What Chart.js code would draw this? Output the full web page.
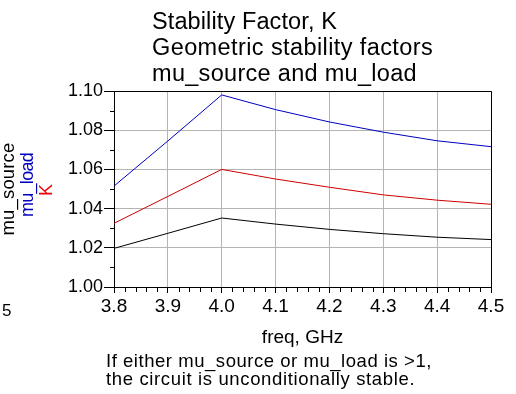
<!DOCTYPE html>
<html>
<head>
<meta charset="utf-8">
<script src="https://cdn.jsdelivr.net/npm/chart.js@4/dist/chart.umd.min.js"></script>
<style>
  html, body { margin: 0; padding: 0; background: #fff; }
  #wrap { position: relative; width: 516px; height: 394px; }
</style>
</head>
<body>
<div id="wrap"><canvas id="c" width="516" height="394"></canvas></div>
<script>
// ---- data ----
const freqGHz   = [3.8, 3.9, 4.0, 4.1, 4.2, 4.3, 4.4, 4.5];
const muLoad    = [1.0515, 1.0745, 1.0980, 1.0905, 1.0842, 1.0790, 1.0746, 1.0716];
const stabK     = [1.0325, 1.0462, 1.0600, 1.0551, 1.0509, 1.0470, 1.0443, 1.0422];
const muSource  = [1.0197, 1.0274, 1.0352, 1.0321, 1.0294, 1.0272, 1.0254, 1.0242];

const titleLines  = ["Stability Factor, K", "Geometric stability factors", "mu_source and mu_load"];
const noteLines   = ["If either mu_source or mu_load is >1,", "the circuit is unconditionally stable."];
const xTitle      = "freq, GHz";

const FONT = "'Liberation Sans', Arial, sans-serif";
const BLUE = "#0000c0", RED = "#d00000", BLACK = "#000000";

function toXY(ys) { return freqGHz.map((f, i) => ({ x: f, y: ys[i] })); }

// draw text stretched (via letter spacing) to a measured target width
function fitText(ctx, txt, x, y, size, targetW) {
  ctx.font = size + "px " + FONT;
  if ('letterSpacing' in ctx) {
    ctx.letterSpacing = "0px";
    const w = ctx.measureText(txt).width;
    const n = txt.length;
    ctx.letterSpacing = ((targetW - w) / n).toFixed(2) + "px";
  }
  ctx.fillText(txt, x, y);
  if ('letterSpacing' in ctx) ctx.letterSpacing = "0px";
}

const decor = {
  id: 'decor',
  afterDraw(chart) {
    const ctx = chart.ctx, a = chart.chartArea;
    const xs = chart.scales.x, ys = chart.scales.y;
    ctx.save();
    // frame top/right
    ctx.strokeStyle = BLACK; ctx.lineWidth = 1;
    ctx.beginPath();
    ctx.moveTo(a.left, a.top + 0.5); ctx.lineTo(a.right + 0.5, a.top + 0.5);
    ctx.lineTo(a.right + 0.5, a.bottom);
    ctx.stroke();
    // minor ticks x
    ctx.beginPath();
    for (let k = 0; k <= 35; k++) {
      if (k % 5 === 0) continue;
      const v = 3.8 + k * 0.02;
      const px = Math.round(xs.getPixelForValue(v)) + 0.5;
      ctx.moveTo(px, a.bottom); ctx.lineTo(px, a.bottom + 5);
    }
    // minor ticks y
    for (let k = 1; k < 10; k += 2) {
      const v = 1.0 + k * 0.01;
      const py = Math.round(ys.getPixelForValue(v)) + 0.5;
      ctx.moveTo(a.left - 4, py); ctx.lineTo(a.left, py);
    }
    ctx.stroke();

    // title
    ctx.fillStyle = BLACK;
    ctx.textAlign = 'left'; ctx.textBaseline = 'alphabetic';
    const titleW = [185, 281, 265];
    titleLines.forEach((t, i) => fitText(ctx, t, 152, 29 + i * 26, 23.5, titleW[i]));

    // x axis title
    ctx.font = "19px " + FONT;
    ctx.textAlign = 'center';
    ctx.fillText(xTitle, (a.left + a.right) / 2, 343);

    // note
    ctx.textAlign = 'left';
    const noteW = [326, 309];
    noteLines.forEach((t, i) => fitText(ctx, t, 106, 367 + i * 18, 18.5, noteW[i]));

    // stray "5"
    ctx.font = "17px " + FONT;
    ctx.fillText("5", 2, 316);

    // y axis titles (rotated)
    function vtext(txt, x, y, color, size, targetW) {
      ctx.save();
      ctx.translate(x, y);
      ctx.rotate(-Math.PI / 2);
      ctx.fillStyle = color;
      ctx.textAlign = 'left'; ctx.textBaseline = 'alphabetic';
      fitText(ctx, txt, -targetW / 2, 0, size, targetW);
      ctx.restore();
    }
    vtext("mu_source", 14, 189, BLACK, 18.5, 93);
    vtext("mu_load", 33, 185, BLUE, 18, 64);
    vtext("K", 52, 190, "#ee0000", 18, 12);
    ctx.restore();
  }
};

new Chart(document.getElementById('c'), {
  type: 'line',
  data: {
    datasets: [
      { label: 'mu_load', data: toXY(muLoad), borderColor: BLUE, borderWidth: 1, pointRadius: 0, tension: 0, fill: false },
      { label: 'K', data: toXY(stabK), borderColor: RED, borderWidth: 1, pointRadius: 0, tension: 0, fill: false },
      { label: 'mu_source', data: toXY(muSource), borderColor: BLACK, borderWidth: 1, pointRadius: 0, tension: 0, fill: false }
    ]
  },
  options: {
    responsive: false,
    animation: false,
    events: [],
    layout: { padding: { left: 0, top: 91, right: 25, bottom: 0 } },
    plugins: { legend: { display: false }, title: { display: false }, tooltip: { enabled: false } },
    scales: {
      x: {
        type: 'linear', min: 3.8, max: 4.5,
        afterFit(s) { s.height = 107; },
        border: { display: true, color: BLACK, width: 1 },
        grid: { color: '#b4b4b4', tickColor: BLACK, tickLength: 6, drawTicks: true },
        ticks: {
          stepSize: 0.1, autoSkip: false, maxRotation: 0, minRotation: 0, padding: 2,
          color: BLACK, font: { family: FONT, size: 19 },
          callback: v => Number(v).toFixed(1)
        }
      },
      y: {
        type: 'linear', min: 1.0, max: 1.1,
        afterFit(s) { s.width = 114; },
        border: { display: true, color: BLACK, width: 1 },
        grid: { color: '#b4b4b4', tickColor: BLACK, tickLength: 10, drawTicks: true },
        ticks: {
          stepSize: 0.02, autoSkip: false, padding: 1,
          color: BLACK, font: { family: FONT, size: 18 },
          callback: v => Number(v).toFixed(2)
        }
      }
    }
  },
  plugins: [decor]
});
</script>
</body>
</html>
